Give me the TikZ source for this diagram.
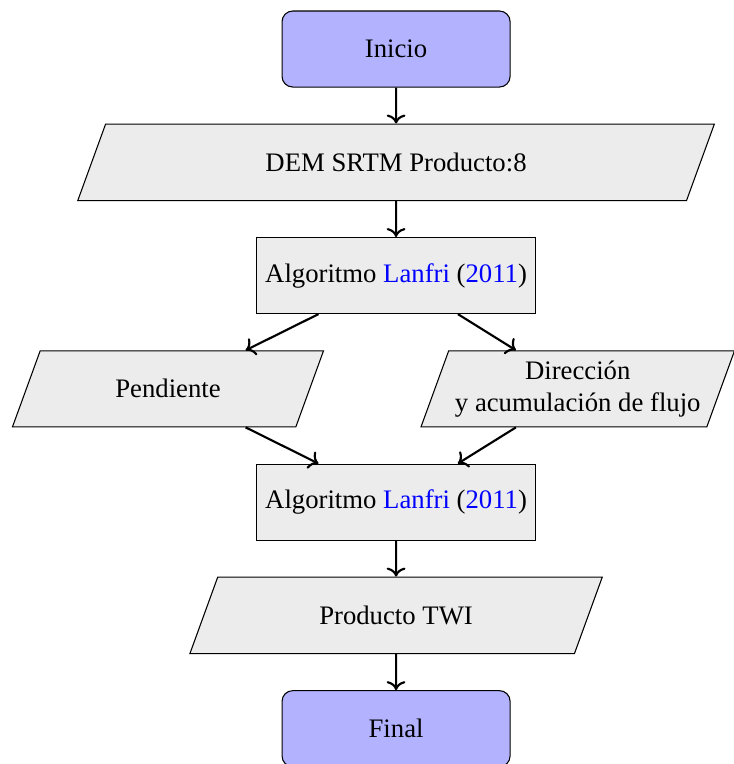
\documentclass[tikz,border=0pt]{standalone}
\usepackage{fontspec}
\setmainfont{Liberation Serif}
\usepackage{tikz}
\usetikzlibrary{arrows.meta,shapes.geometric,positioning}

\tikzset{
  startstop/.style={rectangle,rounded corners,draw,fill=blue!30,
                    minimum width=3cm,minimum height=1cm},
  io/.style={trapezium,trapezium left angle=70,trapezium right angle=110,
             draw,fill=gray!15,minimum height=1cm,text centered},
  process/.style={rectangle,draw,fill=gray!15,minimum height=1cm},
  arrow/.style={thick,->}
}

\begin{document}
\begin{tikzpicture}
 \useasboundingbox (0,0) rectangle (9.645,-10.05);
 \node[startstop] (inicio) at (5.21,-0.645) {Inicio};
 \node[io,minimum width=8.4cm] (dem) at (5.21,-2.135) {DEM SRTM Producto:8};
 \node[process] (lanfri1) at (5.21,-3.625)
   {Algoritmo \textcolor{blue}{Lanfri} (\textcolor{blue}{2011})};
 \node[io,minimum width=4.08cm] (pendiente) at (2.21,-5.115) {Pendiente};
 \node[io,minimum width=4.08cm,inner xsep=1.2pt,align=center] (flujo) at (7.6,-5.115)
   {Dirección\\ y acumulación de flujo};
 \node[process] (lanfri2) at (5.21,-6.605)
   {Algoritmo \textcolor{blue}{Lanfri} (\textcolor{blue}{2011})};
 \node[io,minimum width=5.43cm] (twi) at (5.21,-8.095) {Producto TWI};
 \node[startstop] (final) at (5.21,-9.585) {Final};
 % conectores
 \draw[arrow] (inicio) -- (dem);
 \draw[arrow] (dem) -- (lanfri1);
 \draw[arrow] (lanfri1) -- (pendiente);
 \draw[arrow] (lanfri1) -- (flujo);
 \draw[arrow] (pendiente) -- (lanfri2);
 \draw[arrow] (flujo) -- (lanfri2);
 \draw[arrow] (lanfri2) -- (twi);
 \draw[arrow] (twi) -- (final);
\end{tikzpicture}
\end{document}
